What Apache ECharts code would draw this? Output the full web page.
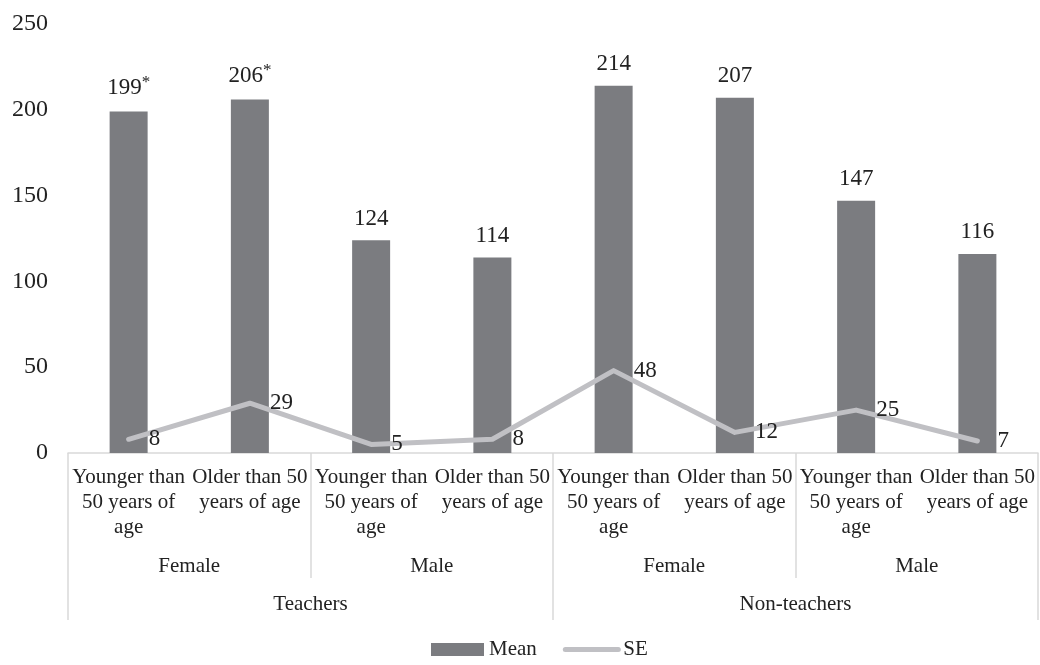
<!DOCTYPE html>
<html>
<head>
<meta charset="utf-8">
<script src="https://cdn.jsdelivr.net/npm/echarts@6/dist/echarts.min.js"></script>
<style>
  html, body { margin: 0; padding: 0; background: #fff; }
  #chart { width: 1040px; height: 665px; }
</style>
</head>
<body>
<div id="chart"></div>
<script>
const ageGroups = ['Younger than\n50 years of\nage', 'Older than 50\nyears of age',
  'Younger than\n50 years of\nage', 'Older than 50\nyears of age',
  'Younger than\n50 years of\nage', 'Older than 50\nyears of age',
  'Younger than\n50 years of\nage', 'Older than 50\nyears of age']
const genders = ['Female', 'Male', 'Female', 'Male']
const groups = ['Teachers', 'Non-teachers']
const meanValues = [199, 206, 124, 114, 214, 207, 147, 116]
const meanMarks = ['*', '*', '', '', '', '', '', '']
const seValues = [8, 29, 5, 8, 48, 12, 25, 7]
const yTicks = { min: 0, max: 250, interval: 50 }

const textColor = '#222'
const divider = '#d9d9d9'
const chart = echarts.init(document.getElementById('chart'))

chart.setOption({
  animation: false,
  textStyle: { fontFamily: 'Liberation Serif', color: textColor },
  grid: { left: 68, right: 2, top: 24, bottom: 212, containLabel: false },
  legend: {
    bottom: 0,
    left: 426,
    itemWidth: 53,
    itemHeight: 13,
    itemGap: 26,
    textStyle: { fontSize: 21, color: textColor, fontFamily: 'Liberation Serif' },
    data: [
      { name: 'Mean', icon: 'rect' },
      { name: 'SE', itemStyle: { opacity: 0 }, lineStyle: { width: 5, cap: 'round', color: '#c0c0c4' } }
    ]
  },
  xAxis: [
    {
      type: 'category',
      data: ageGroups,
      position: 'bottom',
      axisLine: { show: true, lineStyle: { color: divider, width: 1.5 } },
      axisTick: { show: false },
      axisLabel: { interval: 0, fontSize: 21, lineHeight: 25, margin: 12, color: textColor }
    },
    {
      type: 'category',
      data: genders,
      position: 'bottom',
      axisLine: { show: false },
      axisTick: { show: true, length: 125, interval: 0, lineStyle: { color: divider, width: 1.5 } },
      axisLabel: { interval: 0, fontSize: 21, margin: 103, color: textColor }
    },
    {
      type: 'category',
      data: groups,
      position: 'bottom',
      axisLine: { show: false },
      axisTick: { show: true, length: 167, interval: 0, lineStyle: { color: divider, width: 1.5 } },
      axisLabel: { interval: 0, fontSize: 21, margin: 141, color: textColor }
    }
  ],
  yAxis: {
    type: 'value',
    min: yTicks.min,
    max: yTicks.max,
    interval: yTicks.interval,
    axisLine: { show: false },
    axisTick: { show: false },
    splitLine: { show: false },
    axisLabel: { fontSize: 24, margin: 20, color: textColor }
  },
  series: [
    {
      name: 'Mean',
      type: 'bar',
      xAxisIndex: 0,
      barWidth: 38,
      itemStyle: { color: '#7b7c80' },
      data: meanValues,
      label: {
        show: true,
        position: 'top',
        distance: 10,
        fontSize: 23,
        color: textColor,
        formatter: p => p.value + (meanMarks[p.dataIndex] ? '{s|' + meanMarks[p.dataIndex] + '}' : ''),
        rich: { s: { fontSize: 17, padding: [0, 0, 10, 0], color: textColor } }
      }
    },
    {
      name: 'SE',
      type: 'line',
      xAxisIndex: 0,
      data: seValues,
      symbol: 'circle',
      symbolSize: 0.1,
      itemStyle: { color: '#c0c0c4' },
      lineStyle: { color: '#c0c0c4', width: 5, cap: 'round', join: 'round' },
      label: {
        show: true,
        position: 'right',
        distance: 20,
        fontSize: 23,
        color: textColor
      }
    }
  ]
})
</script>
</body>
</html>
